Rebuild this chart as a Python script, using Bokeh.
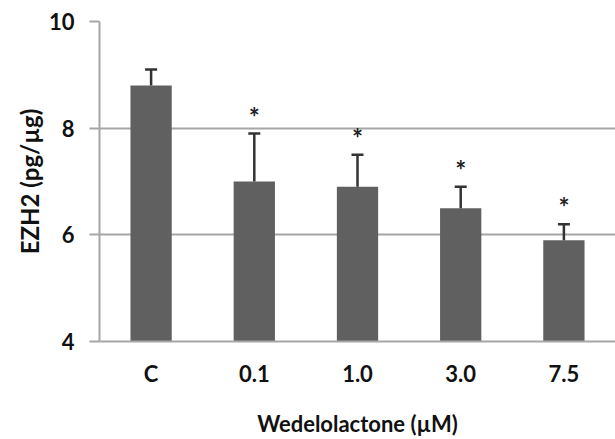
from bokeh.plotting import figure
from bokeh.models import ColumnDataSource, Whisker, TeeHead, FixedTicker, Range1d
from bokeh.core.properties import value
from bokeh.embed import file_html
from bokeh.resources import INLINE

categories = ["C", "0.1", "1.0", "3.0", "7.5"]
means = [8.8, 7.0, 6.9, 6.5, 5.9]
errors = [0.3, 0.9, 0.6, 0.4, 0.3]
marks = ["", "*", "*", "*", "*"]
y_ticks = [4, 6, 8, 10]

upper = [m + e for m, e in zip(means, errors)]
src = ColumnDataSource(dict(cat=categories, mean=means, upper=upper, mark=marks))

FONT = "Lato"

p = figure(x_range=categories, y_range=Range1d(4, 10), width=615, height=439,
           output_backend="svg", toolbar_location=None,
           min_border_left=99, min_border_right=0, min_border_top=21, min_border_bottom=96)
p.outline_line_color = None
p.background_fill_color = "white"

p.vbar(x="cat", top="mean", bottom=4, width=0.4, source=src,
       fill_color="#606060", line_color=None)

wh = Whisker(base="cat", lower="mean", upper="upper", source=src,
             line_color="#333333", line_width=2.5, level="annotation",
             upper_head=TeeHead(size=12, line_color="#333333", line_width=2.5),
             lower_head=None)
p.add_layout(wh)

p.text(x="cat", y="upper", text="mark", source=src, text_align="center",
       text_baseline="bottom", y_offset=-1, text_font=value(FONT),
       text_font_size="26px", text_font_style="bold", text_color="#222222")

p.xgrid.grid_line_color = None
p.ygrid.grid_line_color = "#a6a6a6"
p.ygrid.grid_line_width = 2
p.yaxis.ticker = FixedTicker(ticks=y_ticks)

for ax in (p.xaxis[0], p.yaxis[0]):
    ax.axis_line_color = "#a6a6a6"
    ax.axis_line_width = 2
    ax.major_label_text_font = FONT
    ax.major_label_text_font_style = "bold"
    ax.major_label_text_font_size = "22px"
    ax.major_label_text_color = "#111111"
    ax.axis_label_text_font = FONT
    ax.axis_label_text_font_style = "bold"
    ax.axis_label_text_color = "#111111"
    ax.minor_tick_line_color = None

p.yaxis.major_tick_out = 10
p.yaxis.major_tick_in = 0
p.yaxis.major_tick_line_color = "#a6a6a6"
p.yaxis.major_tick_line_width = 2
p.yaxis.major_label_standoff = 15
p.yaxis.axis_label = "EZH2 (pg/µg)"
p.yaxis.axis_label_text_font_size = "24px"
p.yaxis.axis_label_standoff = 2

p.xaxis.major_tick_line_color = None
p.xaxis.major_tick_out = 0
p.xaxis.major_tick_in = 0
p.xaxis.major_label_standoff = 18
p.xaxis.axis_label = "Wedelolactone (µM)"
p.xaxis.axis_label_text_font_size = "22px"
p.xaxis.axis_label_standoff = 20
p.xaxis.axis_label_align = "center"

open("out.html", "w").write(file_html(p, INLINE))
